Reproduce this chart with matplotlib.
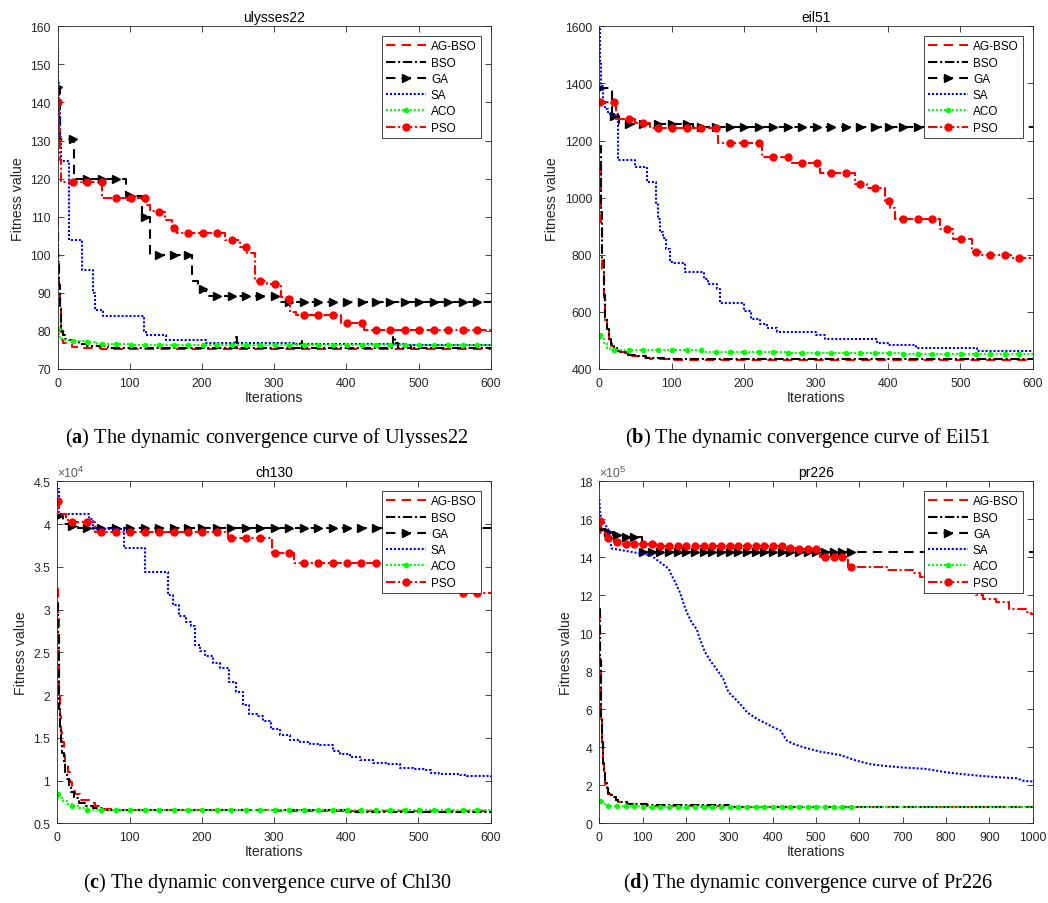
import numpy as np
import matplotlib
matplotlib.use("Agg")
import matplotlib.pyplot as plt
from matplotlib.lines import Line2D
from matplotlib.ticker import FixedLocator, FuncFormatter

# ---------------- data (breakpoints: iteration, best fitness) ----------------
LEGEND_LABELS = ["AG-BSO", "BSO", "GA", "SA", "ACO", "PSO"]

# (a) ulysses22
A_AGBSO_X = [0, 1, 2, 3, 4, 5, 6, 8, 12, 20, 30, 60, 600]
A_AGBSO_Y = [110, 100, 92, 86, 82, 79, 77.5, 76.8, 76.5, 75.8, 75.5, 75.3, 75.3]
A_BSO_X = [0, 1, 2, 3, 4, 5, 7, 10, 15, 20, 30, 40, 70, 247, 249, 336, 338, 465, 468, 472, 490, 493, 600]
A_BSO_Y = [106, 98, 92, 86, 82, 80, 79, 78, 77.5, 77, 76.5, 76, 75.6, 78.3, 75.6, 77.3, 75.6, 78.3, 76.8, 75.6, 76.4, 75.5, 75.5]
A_GA_X = [0, 3, 22, 95, 117, 128, 186, 195, 205, 305, 600]
A_GA_Y = [144, 130.5, 120, 115.5, 110, 100, 93, 91, 89.3, 87.6, 87.6]
A_SA_X = [0, 1, 2, 3, 4, 5, 15, 33, 49, 52, 63, 120, 123, 150, 206, 330, 480, 600]
A_SA_Y = [153.5, 145, 138, 131, 127, 124.5, 104, 96, 90, 85.5, 84, 80, 79, 77.6, 76.9, 76.5, 76.3, 76.3]
A_ACO_X = [0, 1, 2, 4, 8, 20, 40, 55, 100, 300, 600]
A_ACO_Y = [83.5, 80.5, 78.5, 78, 77.7, 77.3, 77, 76.5, 76.3, 76.2, 76.1]
A_PSO_X = [0, 1, 2, 3, 4, 5, 62, 123, 128, 138, 148, 158, 165, 232, 252, 262, 274, 290, 310, 316, 322, 330, 393, 425, 600]
A_PSO_Y = [143, 140, 133, 125, 121, 119, 115, 113, 111.5, 111.2, 109, 107.1, 105.6, 104, 102, 100.5, 93, 92.3, 89, 88.5, 85, 84.3, 82, 80.2, 80.2]

# (b) eil51
B_AGBSO_X = [0, 2, 4, 6, 8, 10, 13, 16, 20, 25, 35, 45, 55, 70, 100, 600]
B_AGBSO_Y = [1100, 900, 750, 640, 570, 530, 495, 480, 468, 460, 455, 445, 438, 435, 433, 430]
B_BSO_X = [0, 2, 4, 6, 8, 10, 13, 16, 20, 25, 30, 40, 50, 65, 90, 150, 600]
B_BSO_Y = [1180, 950, 780, 660, 580, 540, 505, 487, 472, 462, 458, 450, 444, 438, 435, 434, 432]
B_GA_X = [0, 18, 27, 130, 600]
B_GA_Y = [1385, 1287, 1257, 1247, 1247]
B_SA_X = [0, 1, 2, 3, 5, 8, 12, 26, 50, 66, 78, 81, 84, 88, 93, 98, 102, 118, 145, 150, 163, 167,
          200, 210, 222, 232, 246, 300, 312, 385, 400, 438, 523, 600]
B_SA_Y = [1590, 1480, 1420, 1392, 1340, 1310, 1292, 1131, 1108, 1056, 983, 925, 878, 860, 820, 773, 770, 738,
          715, 697, 680, 631, 604, 575, 557, 545, 530, 518, 505, 490, 483, 472, 464, 464]
B_ACO_X = [0, 3, 6, 10, 15, 142, 260, 420, 600]
B_ACO_Y = [518, 505, 490, 475, 467, 458, 455, 452, 451]
B_PSO_X = [0, 23, 50, 70, 165, 225, 264, 306, 354, 370, 395, 402, 410, 471, 490, 516, 528, 570, 600]
B_PSO_Y = [1336, 1275, 1260, 1243, 1190, 1143, 1120, 1088, 1047, 1033, 989, 963, 925, 890, 855, 810, 800, 787, 787]

# (c) ch130  (values in units of 10^4)
C_AGBSO_X = [0, 1, 2, 3, 4, 5, 7, 9, 11, 15, 18, 21, 25, 32, 48, 52, 58, 80, 300, 600]
C_AGBSO_Y = [3.24, 2.9, 2.4, 2.0, 1.75, 1.57, 1.45, 1.3, 1.2, 1.1, 0.98, 0.88, 0.84, 0.77, 0.74, 0.70, 0.67, 0.655, 0.64, 0.62]
C_BSO_X = [0, 1, 2, 3, 4, 5, 7, 9, 11, 13, 16, 19, 23, 30, 40, 50, 65, 200, 400, 600]
C_BSO_Y = [3.08, 2.7, 2.2, 1.84, 1.6, 1.45, 1.32, 1.2, 1.1, 1.02, 0.94, 0.87, 0.8, 0.74, 0.7, 0.675, 0.66, 0.65, 0.635, 0.62]
C_GA_X = [0, 8, 18, 28, 600]
C_GA_Y = [4.1, 4.0, 3.98, 3.955, 3.95]
C_SA_X = [0, 2, 3, 44, 50, 93, 122, 153, 160, 168, 178, 185, 190, 197, 204, 215, 225, 238, 248, 257, 266, 276,
          285, 296, 308, 322, 336, 350, 364, 382, 392, 405, 419, 437, 456, 474, 492, 511, 518, 529, 557, 567, 600]
C_SA_Y = [4.41, 4.25, 4.12, 4.06, 3.94, 3.72, 3.436, 3.17, 3.05, 2.93, 2.85, 2.81, 2.58, 2.52, 2.46, 2.38, 2.32,
          2.15, 2.03, 1.88, 1.78, 1.76, 1.70, 1.60, 1.53, 1.47, 1.45, 1.43, 1.41, 1.35, 1.31, 1.27, 1.24, 1.21, 1.19,
          1.15, 1.13, 1.12, 1.09, 1.08, 1.07, 1.05, 1.04]
C_ACO_X = [0, 3, 8, 14, 20, 30, 41, 150, 350, 600]
C_ACO_Y = [0.84, 0.80, 0.76, 0.72, 0.70, 0.68, 0.66, 0.655, 0.65, 0.645]
C_PSO_X = [0, 2, 12, 17, 52, 236, 297, 327, 560, 600]
C_PSO_Y = [4.27, 4.12, 4.05, 4.02, 3.905, 3.833, 3.665, 3.545, 3.19, 3.19]

# (d) pr226  (values in units of 10^5)
D_AGBSO_X = [0, 1, 2, 3, 4, 5, 6, 7, 8, 9, 10, 12, 14, 17, 21, 26, 32, 38, 44, 63, 110, 300, 1000]
D_AGBSO_Y = [11.2, 9.8, 8.4, 7.3, 6.4, 5.5, 4.8, 4.2, 3.6, 3.1, 2.7, 2.3, 2.05, 1.8, 1.54, 1.45, 1.37, 1.22, 1.1,
             1.02, 0.93, 0.87, 0.84]
D_BSO_X = [0, 1, 2, 3, 4, 5, 6, 7, 8, 9, 10, 12, 14, 17, 21, 26, 32, 38, 44, 63, 110, 300, 1000]
D_BSO_Y = [11.3, 10.0, 8.6, 7.5, 6.5, 5.6, 4.9, 4.3, 3.7, 3.2, 2.8, 2.4, 2.1, 1.85, 1.6, 1.5, 1.4, 1.25, 1.12,
           1.03, 0.94, 0.88, 0.85]
D_GA_X = [0, 12, 32, 52, 98, 1000]
D_GA_Y = [15.5, 15.35, 15.18, 15.05, 14.3, 14.28]
D_SA_X = [0, 2, 4, 22, 28, 120, 128, 160, 168, 175, 186, 194, 202, 213, 225, 232, 244, 256, 271, 286, 298, 310,
          325, 341, 364, 387, 402, 418, 433, 448, 471, 486, 509, 555, 593, 624, 655, 694, 755, 801, 832, 878, 924,
          963, 978, 1000]
D_SA_Y = [17.07, 16.3, 16.1, 15.4, 14.47, 14.1, 13.95, 13.4, 13.0, 12.7, 12.15, 11.6, 11.1, 10.58, 10.2, 9.7, 9.0,
          8.56, 8.1, 7.6, 6.9, 6.63, 6.28, 5.84, 5.49, 5.23, 5.05, 4.88, 4.35, 4.18, 4.0, 3.91, 3.77, 3.6, 3.3,
          3.12, 3.03, 2.95, 2.86, 2.68, 2.6, 2.5, 2.42, 2.37, 2.24, 2.2]
D_ACO_X = [0, 5, 12, 21, 40, 100, 400, 1000]
D_ACO_Y = [1.19, 1.1, 1.0, 0.93, 0.9, 0.88, 0.87, 0.86]
D_PSO_X = [0, 3, 15, 35, 50, 130, 430, 455, 510, 574, 663, 724, 740, 780, 820, 850, 870, 886, 915, 945, 985, 995, 1000]
D_PSO_Y = [15.93, 15.3, 15.02, 14.79, 14.7, 14.58, 14.47, 14.42, 14.0, 13.47, 13.33, 13.15, 12.95, 12.7, 12.4,
           12.15, 12.0, 11.8, 11.65, 11.3, 11.1, 11.0, 11.0]

TITLES = ["ulysses22", "eil51", "ch130", "pr226"]
CAPTION_LETTERS = ["a", "b", "c", "d"]
CAPTION_NAMES = ["Ulysses22", "Eil51", "Chl30", "Pr226"]
X_TICKS = [[0, 100, 200, 300, 400, 500, 600]] * 3 + [[0, 100, 200, 300, 400, 500, 600, 700, 800, 900, 1000]]
Y_TICKS = [[70, 80, 90, 100, 110, 120, 130, 140, 150, 160],
           [400, 600, 800, 1000, 1200, 1400, 1600],
           [0.5, 1, 1.5, 2, 2.5, 3, 3.5, 4, 4.5],
           [0, 2, 4, 6, 8, 10, 12, 14, 16, 18]]
Y_EXPONENT = [None, None, "4", "5"]

PANELS = [
    [(A_AGBSO_X, A_AGBSO_Y), (A_BSO_X, A_BSO_Y), (A_GA_X, A_GA_Y), (A_SA_X, A_SA_Y), (A_ACO_X, A_ACO_Y), (A_PSO_X, A_PSO_Y)],
    [(B_AGBSO_X, B_AGBSO_Y), (B_BSO_X, B_BSO_Y), (B_GA_X, B_GA_Y), (B_SA_X, B_SA_Y), (B_ACO_X, B_ACO_Y), (B_PSO_X, B_PSO_Y)],
    [(C_AGBSO_X, C_AGBSO_Y), (C_BSO_X, C_BSO_Y), (C_GA_X, C_GA_Y), (C_SA_X, C_SA_Y), (C_ACO_X, C_ACO_Y), (C_PSO_X, C_PSO_Y)],
    [(D_AGBSO_X, D_AGBSO_Y), (D_BSO_X, D_BSO_Y), (D_GA_X, D_GA_Y), (D_SA_X, D_SA_Y), (D_ACO_X, D_ACO_Y), (D_PSO_X, D_PSO_Y)],
]
# the pr226 SA curve descends gradually: draw it with straight segments instead of steps
SMOOTH = {(3, 3)}

# ---------------- styles ----------------
LW = 1.5
DASH = (4.5, 3.0)
DASHDOT = (4.5, 1.3, 1.0, 1.3)
DOT = (1.0, 0.9)
STYLES = [
    dict(color=(1, 0, 0), dashes=DASH, marker=None),
    dict(color=(0, 0, 0), dashes=DASHDOT, marker=None),
    dict(color=(0, 0, 0), dashes=DASH, marker=">", ms=6.0),
    dict(color=(0, 0, 1), dashes=DOT, marker=None),
    dict(color=(0, 1, 0), dashes=DOT, marker="o", ms=3.0),
    dict(color=(1, 0, 0), dashes=DASHDOT, marker="o", ms=5.0),
]
MARKER_ITERS = np.arange(1, 600, 20)
TXT = (0.15, 0.15, 0.15)

plt.rcParams["font.family"] = ["Liberation Sans", "DejaVu Sans"]
plt.rcParams["mathtext.fontset"] = "custom"
plt.rcParams["mathtext.rm"] = "Liberation Serif"
plt.rcParams["mathtext.bf"] = "Liberation Serif:bold"


def value_at(xb, yb, xq, smooth=False):
    if smooth:
        return np.interp(xq, xb, yb)
    idx = np.searchsorted(np.asarray(xb), xq, side="right") - 1
    idx = np.clip(idx, 0, len(yb) - 1)
    return np.asarray(yb)[idx]


fig = plt.figure(figsize=(10.48, 9.04), dpi=100)
RECTS = [
    [57.7 / 1048, 1 - 370 / 904, 433.0 / 1048, 342.7 / 904],
    [599.3 / 1048, 1 - 370 / 904, 433.4 / 1048, 342.7 / 904],
    [57.3 / 1048, 1 - 824.3 / 904, 433.4 / 1048, 342.0 / 904],
    [599.3 / 1048, 1 - 824.3 / 904, 433.4 / 1048, 342.0 / 904],
]
CAPTION_POS = [(267 / 1048, 1 - 438 / 904), (808 / 1048, 1 - 438 / 904),
               (267 / 1048, 1 - 883 / 904), (808 / 1048, 1 - 883 / 904)]

for p in range(4):
    ax = fig.add_axes(RECTS[p])
    xmax = X_TICKS[p][-1]
    handles = []
    for s, (xs, ys) in enumerate(PANELS[p]):
        st = STYLES[s]
        smooth = (p, s) in SMOOTH
        ax.plot(xs, ys, drawstyle="default" if smooth else "steps-post", color=st["color"], lw=LW,
                dashes=st["dashes"])
        if st["marker"]:
            mx = MARKER_ITERS[MARKER_ITERS <= xmax]
            ax.plot(mx, value_at(xs, ys, mx, smooth), linestyle="none", marker=st["marker"], ms=st["ms"],
                    color=st["color"], mec=st["color"], mfc=st["color"])
        handles.append(Line2D([], [], color=st["color"], lw=LW, dashes=st["dashes"],
                              marker=st["marker"], ms=st.get("ms", 0), mfc=st["color"], mec=st["color"]))
    ax.set_xlim(0, xmax)
    ax.set_ylim(Y_TICKS[p][0], Y_TICKS[p][-1])
    ax.xaxis.set_major_locator(FixedLocator(X_TICKS[p]))
    ax.yaxis.set_major_locator(FixedLocator(Y_TICKS[p]))
    ax.yaxis.set_major_formatter(FuncFormatter(lambda v, pos: "%g" % v))
    ax.tick_params(direction="in", top=True, right=True, length=4.5, width=0.6, labelsize=8.8,
                   colors=TXT, pad=5)
    ax.tick_params(axis="x", pad=5.5)
    for sp in ax.spines.values():
        sp.set_linewidth(0.6)
        sp.set_color(TXT)
    ax.set_title(TITLES[p], fontsize=10, color="black", pad=4)
    ax.set_xlabel("Iterations", fontsize=10.2, color=TXT, labelpad=1)
    ax.set_ylabel("Fitness value", fontsize=10.2, color=TXT, labelpad=4)
    if Y_EXPONENT[p]:
        t1 = ax.text(0.0, 1.006, "\u00d710", transform=ax.transAxes, fontsize=8.8, color=(0.35, 0.35, 0.35),
                     ha="left", va="bottom")
        ax.annotate(Y_EXPONENT[p], xy=(1.0, 0.55), xycoords=t1, fontsize=6.8, color=(0.35, 0.35, 0.35),
                    ha="left", va="bottom")
    leg = ax.legend(handles, LEGEND_LABELS, loc="upper right", fontsize=8.5, frameon=True, fancybox=False,
                    framealpha=1, edgecolor=TXT, borderaxespad=0.85, handlelength=3.4, handletextpad=0.4,
                    labelspacing=0.36, borderpad=0.35, numpoints=1)
    leg.get_frame().set_linewidth(0.6)
    fig.text(CAPTION_POS[p][0], CAPTION_POS[p][1],
             "(" + r"$\mathbf{%s}$" % CAPTION_LETTERS[p] + ") The dynamic convergence curve of " + CAPTION_NAMES[p],
             fontsize=14.6, family="Liberation Serif", ha="center", va="center", color="black")

fig.savefig("out.png", dpi=100)
